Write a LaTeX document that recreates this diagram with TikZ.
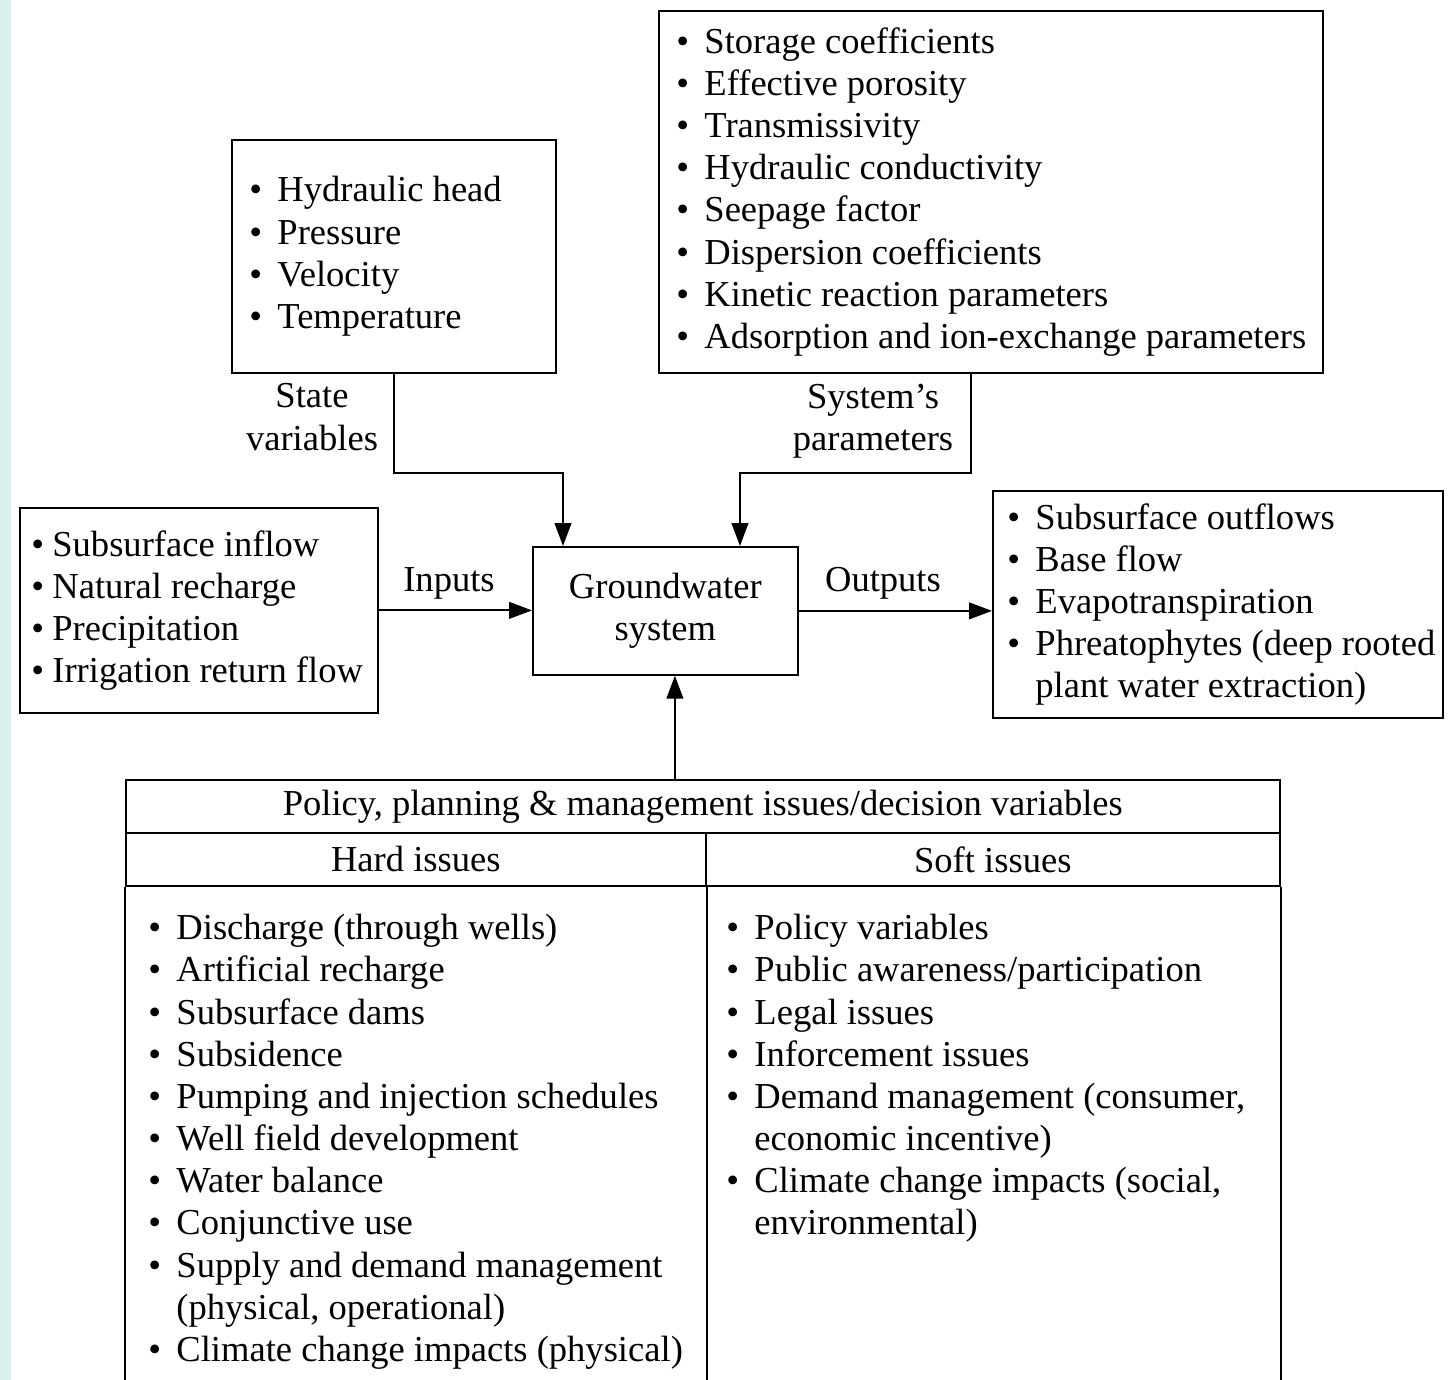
\documentclass[tikz,border=0pt]{standalone}
\usepackage{fontspec}
\setmainfont{Liberation Serif}
\usetikzlibrary{positioning, arrows.meta, calc}
\definecolor{franja}{RGB}{218,240,236}

\newcommand{\vin}{\makebox[16pt][l]{\textbullet}}
\newcommand{\vic}{\makebox[12pt][l]{\textbullet}}
\newcommand{\sangria}{\hspace*{16pt}}

\begin{document}
\begin{tikzpicture}[x=0.02cm, y=-0.02cm,
  every node/.style={font=\fontsize{20.8}{24}\selectfont},
  caja/.style={
    rectangle, draw, line width=1pt,
    anchor=north west, inner sep=0pt
  },
  celda/.style={
    rectangle, draw, line width=1pt,
    anchor=north west, inner sep=0pt, align=center
  },
  lista/.style={align=left, inner sep=0pt, anchor=west},
  etiq/.style={align=center, inner sep=0pt},
  flecha/.style={-{Triangle[length=13pt, width=9.5pt]}, line width=1pt}
]
  \useasboundingbox (0,0) rectangle (1455,1380);
  \fill[franja] (0,0) rectangle (11,1380);

  % --- Cajas superiores ---
  \node[caja, minimum width=6.48cm, minimum height=4.66cm] (estado) at (231,139) {};
  \node[lista, right=0.36cm of estado.west] (listaestado)
    {\vin Hydraulic head\\ \vin Pressure\\ \vin Velocity\\ \vin Temperature};

  \node[caja, minimum width=13.28cm, minimum height=7.24cm] (parametros) at (658,10) {};
  \node[lista, right=0.36cm of parametros.west] (listaparam)
    {\vin Storage coefficients\\ \vin Effective porosity\\ \vin Transmissivity\\
     \vin Hydraulic conductivity\\ \vin Seepage factor\\ \vin Dispersion coefficients\\
     \vin Kinetic reaction parameters\\ \vin Adsorption and ion-exchange parameters};

  % --- Sistema y entradas/salidas ---
  \node[caja, minimum width=5.3cm, minimum height=2.56cm, align=center] (gw) at (532,546)
    {Groundwater\\system};

  \node[caja, minimum width=7.16cm, minimum height=4.1cm] (entradas) at (19,507) {};
  \node[lista, right=0.24cm of entradas.west] (listaentradas)
    {\vic Subsurface inflow\\ \vic Natural recharge\\ \vic Precipitation\\
     \vic Irrigation return flow};

  \node[caja, minimum width=9cm, minimum height=4.54cm] (salidas) at (992,490) {};
  \node[lista, right=0.3cm of salidas.west] (listasalidas)
    {\vin Subsurface outflows\\ \vin Base flow\\ \vin Evapotranspiration\\
     \vin Phreatophytes (deep rooted\\ \sangria plant water extraction)};

  % --- Tabla de decisiones ---
  \node[celda, minimum width=23.08cm, minimum height=1.06cm] (cabecera) at (125,779)
    {Policy, planning \& management issues/decision variables};
  \node[celda, minimum width=11.6cm, minimum height=1.06cm] (duros) at (125,832) {Hard issues};
  \node[celda, minimum width=11.48cm, minimum height=1.06cm] (blandos) at (705,832) {Soft issues};
  \draw[line width=1pt] (duros.south west) -- (duros.south west |- 0,1380);
  \draw[line width=1pt] (duros.south east) -- (duros.south east |- 0,1380);
  \draw[line width=1pt] (blandos.south east) -- (blandos.south east |- 0,1380);

  \node[lista, anchor=north west] (listaduros) at (148,914)
    {\vin Discharge (through wells)\\ \vin Artificial recharge\\ \vin Subsurface dams\\
     \vin Subsidence\\ \vin Pumping and injection schedules\\ \vin Well field development\\
     \vin Water balance\\ \vin Conjunctive use\\ \vin Supply and demand management\\
     \sangria (physical, operational)\\ \vin Climate change impacts (physical)};
  \node[lista, anchor=north west] (listablandos) at (726,914)
    {\vin Policy variables\\ \vin Public awareness/participation\\ \vin Legal issues\\
     \vin Inforcement issues\\ \vin Demand management (consumer,\\
     \sangria economic incentive)\\ \vin Climate change impacts (social,\\
     \sangria environmental)};

  % --- Etiquetas ---
  \node[etiq] (lblestado) at (312,417) {State\\variables};
  \node[etiq] (lblparam) at (873,421) {System’s\\parameters};
  \node[etiq] (lblentradas) at (449,583) {Inputs};
  \node[etiq] (lblsalidas) at (883,583) {Outputs};

  % --- Flechas ---
  \draw[flecha] (estado.south) -- ++(0,99) -| ([xshift=0.62cm]gw.north west);
  \draw[flecha] ([xshift=6.26cm]parametros.south west) -- ++(0,99) -| ([xshift=4.16cm]gw.north west);
  \draw[flecha] (entradas.east) -- (entradas.east -| gw.west);
  \draw[flecha] (gw.east) -- (gw.east -| salidas.west);
  \draw[flecha] ([xshift=11cm]cabecera.north west) -- ([xshift=11cm]cabecera.north west |- gw.south);
\end{tikzpicture}
\end{document}
